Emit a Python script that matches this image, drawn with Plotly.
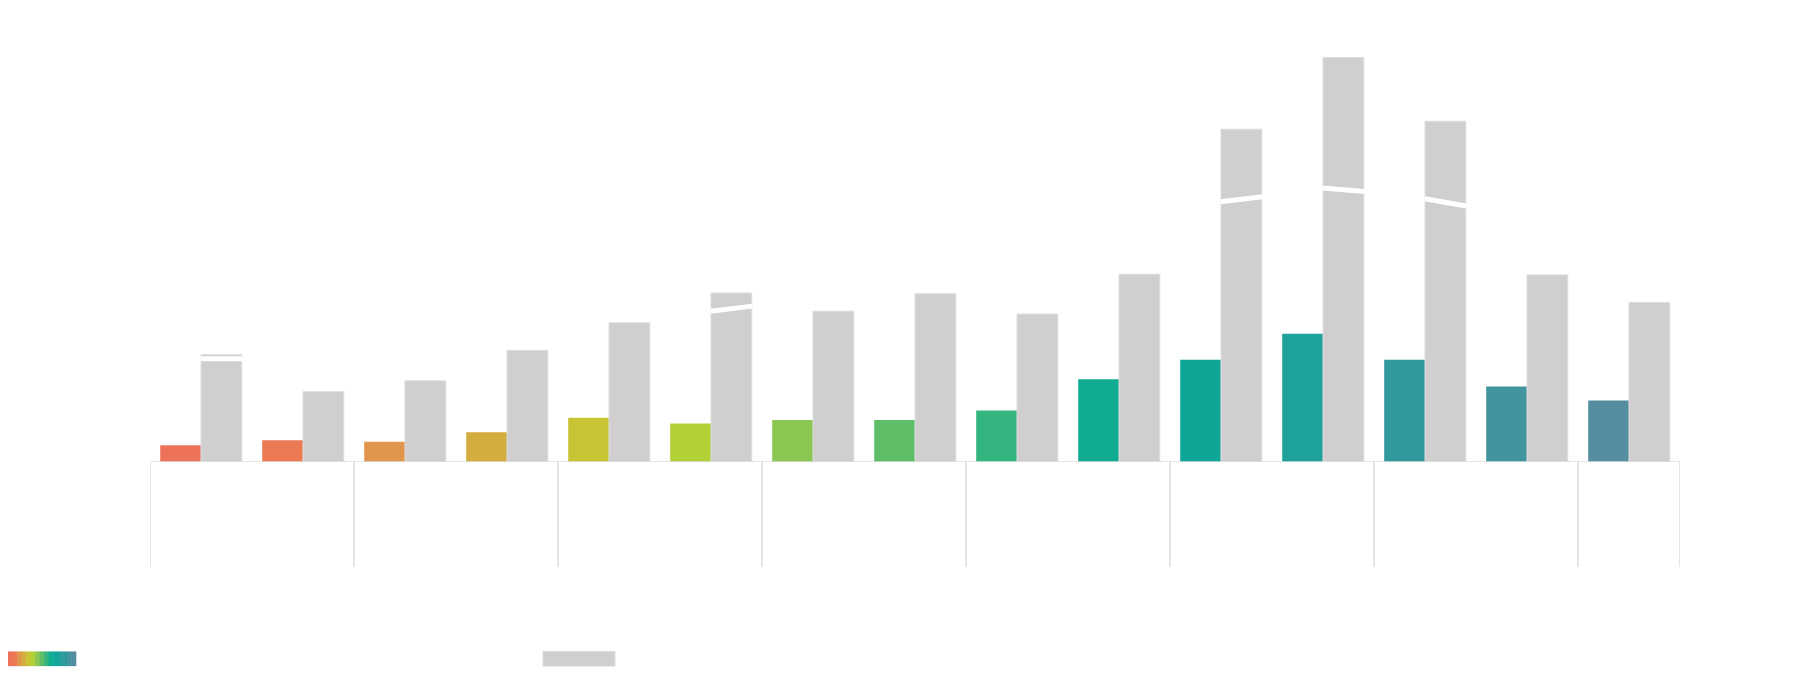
import plotly.graph_objects as go

# ---- data ----
periods = ["H1", "H2", "H1", "H2", "H1", "H2", "H1", "H2", "H1", "H2", "H1", "H2", "H1", "H2", "H1"]
years = ["2016", "2017", "2018", "2019", "2020", "2021", "2022", "2023"]
colored_values = [23, 30, 28, 41, 61, 53, 58, 58, 71, 114, 141, 177, 141, 104, 85]
gray_values = [148, 97, 112, 154, 192, 233, 208, 232, 204, 259, 459, 558, 470, 258, 220]
bar_colors = ["#EC735A", "#EB7A54", "#DF964C", "#D4AD41", "#C8C535", "#B2D136",
              "#8AC652", "#5EBE68", "#34B47E", "#10AC91", "#0FA698", "#1FA29C",
              "#2F999D", "#42949E", "#558DA0"]
gray_color = "#D0CECF"
# axis-break marks on gray bars: index -> (left value, right value)
break_marks = {0: (142.5, 142.5), 5: (208, 215), 10: (359, 366), 11: (378, 373), 12: (363, 353)}
legend_names = ["Segment share", "Total"]
y_ticks = [0, 100, 200, 300, 400, 500, 600]

x = list(range(len(colored_values)))

fig = go.Figure()
fig.add_trace(go.Bar(x=x, y=colored_values, marker=dict(color=bar_colors, line=dict(width=0)),
                     name=legend_names[0], showlegend=False))
fig.add_trace(go.Bar(x=x, y=gray_values, marker=dict(color=gray_color, line=dict(color="#DEDDDD", width=1)),
                     name=legend_names[1], showlegend=False))

OFF = 8  # page body margin
W, H = 1800, 677
L, R, T, B = 142, 128, 9.7, 223
pw, ph = W - L - R, H - T - B


def px(xp):  # page pixel -> paper x
    return (xp - OFF - L) / pw


def py(yp):  # page pixel -> paper y
    return (H - B - (yp - OFF)) / ph


shapes = []
# break marks
for i, (yl, yr) in break_marks.items():
    shapes.append(dict(type="line", xref="x", yref="y", x0=i - 0.005, x1=i + 0.405, y0=yl, y1=yr,
                       line=dict(color="white", width=5), layer="above"))
# baseline
shapes.append(dict(type="line", xref="paper", yref="y", x0=0, x1=1, y0=0, y1=0,
                   line=dict(color="#DCDCDC", width=1.5), layer="above"))
# group dividers
bounds = [-0.5] + [1.5 + 2 * k for k in range(7)] + [14.5]
for b in bounds:
    shapes.append(dict(type="line", xref="x", yref="paper", x0=b, x1=b, y0=0, y1=-107 / ph,
                       line=dict(color="#DCDCDC", width=1.5)))

# legend swatches
sw_y0, sw_y1 = py(670.5), py(655.5)
n = len(bar_colors)
x_start, x_end = 8.0, 75.8
step = (x_end - x_start) / n
for k, c in enumerate(bar_colors):
    shapes.append(dict(type="rect", xref="paper", yref="paper",
                       x0=px(x_start + k * step), x1=px(x_start + (k + 1) * step + 0.5),
                       y0=sw_y0, y1=sw_y1, fillcolor=c, line=dict(width=0)))
shapes.append(dict(type="rect", xref="paper", yref="paper", x0=px(543), x1=px(615), y0=sw_y0, y1=sw_y1,
                   fillcolor=gray_color, line=dict(color="#DEDDDD", width=1)))

annotations = []
for i, p in enumerate(periods):
    annotations.append(dict(x=i, y=py(495), xref="x", yref="paper", text=p, showarrow=False,
                            font=dict(color="white", size=14, family="Open Sans")))
for k, yr in enumerate(years):
    cx = (bounds[k] + bounds[k + 1]) / 2
    annotations.append(dict(x=cx, y=py(545), xref="x", yref="paper", text=yr, showarrow=False,
                            font=dict(color="white", size=14, family="Open Sans")))
annotations.append(dict(x=px(85), y=py(663), xref="paper", yref="paper", text=legend_names[0],
                        showarrow=False, xanchor="left", font=dict(color="white", size=14)))
annotations.append(dict(x=px(625), y=py(663), xref="paper", yref="paper", text=legend_names[1],
                        showarrow=False, xanchor="left", font=dict(color="white", size=14)))

fig.update_layout(
    width=W, height=H,
    margin=dict(l=L, r=R, t=T, b=B),
    paper_bgcolor="white", plot_bgcolor="white",
    barmode="group", bargap=0.2, bargroupgap=0,
    xaxis=dict(range=[-0.5, 14.5], showgrid=False, zeroline=False, showticklabels=False,
               showline=False, ticks=""),
    yaxis=dict(range=[0, 600], tickvals=y_ticks, showgrid=False, zeroline=False,
               tickfont=dict(color="white", size=13), showline=False),
    shapes=shapes, annotations=annotations,
    showlegend=False,
)

fig.write_html("out.html")
